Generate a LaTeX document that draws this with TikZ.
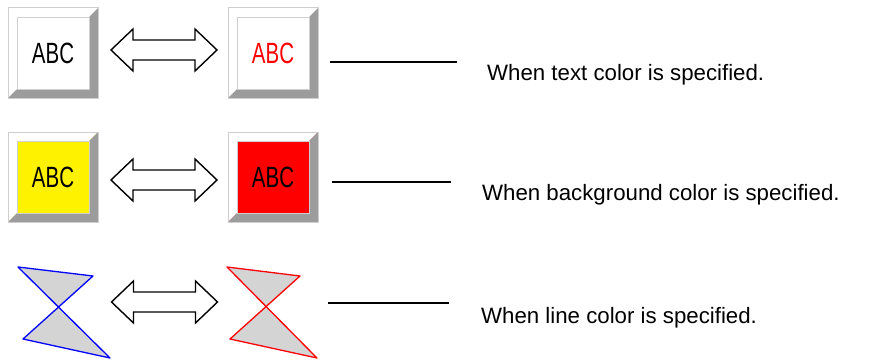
\documentclass[tikz,border=0pt]{standalone}
\usepackage{fontspec}
\newfontfamily\descfont{Liberation Sans}
\newfontfamily\btnfont[FakeStretch=0.70]{Liberation Sans}
\usetikzlibrary{positioning, calc}

\definecolor{rimgray}{HTML}{CFCFCF}
\definecolor{shadegray}{HTML}{9C9C9C}
\definecolor{bowgray}{HTML}{D4D4D4}

\begin{document}
\begin{tikzpicture}[
    x=1pt, y=-1pt,
    % Node styles
    keybtn/.style={
        rectangle, draw=rimgray, fill=white, line width=1pt,
        minimum size=90pt, inner sep=0pt,
        font=\btnfont\fontsize{29.3}{30}\selectfont,
        path picture={
            \fill[white] (path picture bounding box.north west)
                -- (path picture bounding box.north east)
                -- ([shift={(-9pt,-9pt)}]path picture bounding box.north east)
                -- ([shift={(9pt,-9pt)}]path picture bounding box.north west)
                -- ([shift={(9pt,9pt)}]path picture bounding box.south west)
                -- (path picture bounding box.south west) -- cycle;
            \fill[shadegray] (path picture bounding box.north east)
                -- (path picture bounding box.south east)
                -- (path picture bounding box.south west)
                -- ([shift={(9pt,9pt)}]path picture bounding box.south west)
                -- ([shift={(-9pt,9pt)}]path picture bounding box.south east)
                -- ([shift={(-9pt,-9pt)}]path picture bounding box.north east) -- cycle;
            \draw[rimgray, line width=0.8pt]
                ([shift={(9pt,-9pt)}]path picture bounding box.north west)
                rectangle ([shift={(-9pt,9pt)}]path picture bounding box.south east);
        }
    },
    desc/.style={font=\descfont\fontsize{22.25}{26}\selectfont, anchor=base west, inner sep=0pt},
    leader/.style={line width=1.6pt, black},
    swaparrow/.style={draw=black, fill=white, line width=1.4pt, line join=miter},
    bowtie/.style={draw=#1, fill=bowgray, line width=1.3pt, line join=round},
    dblarrow/.pic={
        \draw[swaparrow] (-53,0) -- (-31,-21) -- (-31,-10) -- (31,-10) -- (31,-21)
            -- (53,0) -- (31,21) -- (31,10) -- (-31,10) -- (-31,21) -- cycle;
    }
]

\useasboundingbox (0,0) rectangle (881,361);

% ============================================================
% Row 1: text colour
% ============================================================

\node[keybtn] (plain) at (53,53) {ABC};
\node[keybtn, text=red] (redtext) at (273,53) {ABC};
\pic at (164,50) {dblarrow};

\coordinate (lead1a) at (330,62);
\coordinate (lead1b) at (457,62);
\node[desc] (note1) at (487,81) {When text color is specified.};

% ============================================================
% Row 2: background colour
% ============================================================

\node[keybtn, fill=yellow] (yellowbg) at (53,177) {ABC};
\node[keybtn, fill=red] (redbg) at (273,177) {ABC};
\pic at (164,180) {dblarrow};

\coordinate (lead2a) at (332,182);
\coordinate (lead2b) at (451,182);
\node[desc] (note2) at (482,200) {When background color is specified.};

% ============================================================
% Row 3: line colour
% ============================================================

\draw[bowtie=blue] (18,267) -- (93,276) -- (23,339) -- (110,358) -- cycle;
\draw[bowtie=red] (227,267) -- (300,276) -- (230,339) -- (317,358) -- cycle;
\pic at (164.5,302) {dblarrow};

\coordinate (lead3a) at (328,303);
\coordinate (lead3b) at (449,303);
\node[desc] (note3) at (481,323) {When line color is specified.};

% ============================================================
% Leader lines
% ============================================================

\draw[leader] (lead1a) -- (lead1b);
\draw[leader] (lead2a) -- (lead2b);
\draw[leader] (lead3a) -- (lead3b);

\end{tikzpicture}
\end{document}
